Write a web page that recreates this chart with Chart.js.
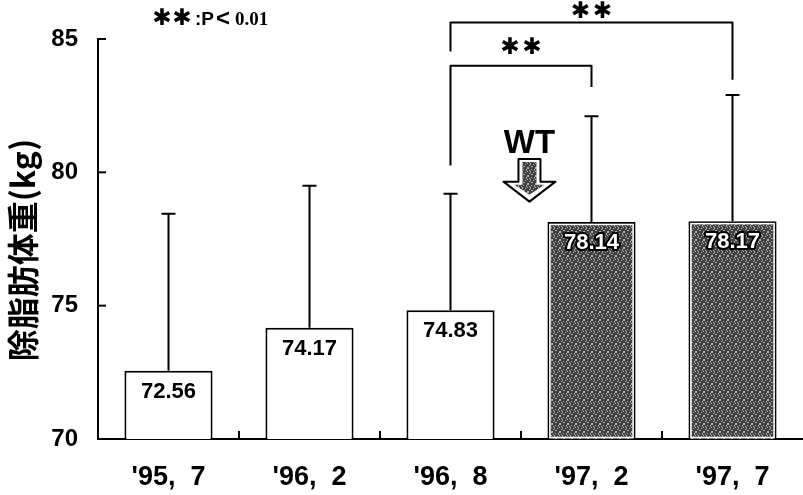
<!DOCTYPE html>
<html>
<head>
<meta charset="utf-8">
<script src="https://cdn.jsdelivr.net/npm/chart.js@4.4.1/dist/chart.umd.min.js"></script>
<style>
    html, body { margin: 0; padding: 0; background: #fff; }
    #wrap { width: 803px; height: 495px; }
</style>
</head>
<body>
<div id="wrap"><canvas id="lbmChart" width="803" height="495"></canvas></div>
<script>
const periods = ["'95,  7", "'96,  2", "'96,  8", "'97,  2", "'97,  7"]
const leanMass = [72.56, 74.17, 74.83, 78.14, 78.17]
const sdTop = [78.45, 79.5, 79.2, 82.1, 82.9]
const yTicks = [70, 75, 80, 85]
const afterWT = [false, false, false, true, true]

// significance brackets (category index / kg)
const bracketFrom = [2, 2]
const bracketTo = [3, 4]
const bracketTop = [84.0, 85.62]
const bracketFromEnd = [80.26, 84.53]
const bracketToEnd = [83.2, 83.47]
const bracketMarkY = [84.67, 86.0]

// WT arrow
const wtAt = 2.56
const wtLabelY = 81.07
const wtArrow = [80.5, 79.65, 78.9] // shaft top, head base, tip

const latin = "'Liberation Sans', Arial, sans-serif"
const cjk = "'Noto Sans CJK JP', 'Noto Sans CJK SC', sans-serif"
const star = "bold 23px 'DejaVu Sans', sans-serif"

const makeStipple = (ctx) => {
    const c = document.createElement('canvas')
    c.width = 8
    c.height = 8
    const g = c.getContext('2d')
    g.fillStyle = '#3f3f3f'
    g.fillRect(0, 0, 8, 8)
    g.fillStyle = '#b0b0b0'
    for (let y = 0; y < 8; y++) {
        for (let x = 0; x < 8; x++) {
            if ((x * 3 + y * 5) % 7 === 0 || (x * 5 + y * 3) % 11 === 0) g.fillRect(x, y, 1, 1)
        }
    }
    return ctx.createPattern(c, 'repeat')
}

const drawStars = (ctx, cx, cy, gap) => {
    ctx.font = star
    ctx.textAlign = 'center'
    ctx.textBaseline = 'middle'
    ctx.fillText('✱', cx - gap / 2, cy)
    ctx.fillText('✱', cx + gap / 2, cy)
}

const annotate = {
    id: 'annotate',
    afterDatasetsDraw(chart) {
        const { ctx, scales: { x, y } } = chart
        const bars = chart.getDatasetMeta(0).data
        ctx.save()
        ctx.strokeStyle = '#000'
        ctx.lineCap = 'butt'

        // inward tick marks
        ctx.lineWidth = 2
        yTicks.forEach((v) => {
            const py = y.getPixelForValue(v)
            ctx.beginPath()
            ctx.moveTo(x.left, py)
            ctx.lineTo(x.left + 8, py)
            ctx.stroke()
        })
        for (let i = 0; i < periods.length - 1; i++) {
            const px = x.getPixelForValue(i + 0.5)
            ctx.beginPath()
            ctx.moveTo(px, y.bottom)
            ctx.lineTo(px, y.bottom - 8)
            ctx.stroke()
        }

        // inner white frame on the stippled bars
        bars.forEach((bar, i) => {
            if (!afterWT[i]) return
            ctx.strokeStyle = '#fff'
            ctx.lineWidth = 1.5
            ctx.strokeRect(bar.x - bar.width / 2 + 2.5, bar.y + 2.5, bar.width - 5, bar.base - bar.y - 4)
        })
        ctx.strokeStyle = '#000'

        // error bars (upper only)
        ctx.lineWidth = 2
        bars.forEach((bar, i) => {
            const top = y.getPixelForValue(sdTop[i])
            ctx.beginPath()
            ctx.moveTo(bar.x, bar.y)
            ctx.lineTo(bar.x, top)
            ctx.moveTo(bar.x - 7, top)
            ctx.lineTo(bar.x + 7, top)
            ctx.stroke()
        })

        // value labels
        ctx.textAlign = 'center'
        ctx.textBaseline = 'middle'
        ctx.font = `bold 22px ${latin}`
        bars.forEach((bar, i) => {
            const ty = bar.y + 21
            const txt = leanMass[i].toFixed(2)
            if (afterWT[i]) {
                ctx.lineWidth = 4
                ctx.lineJoin = 'round'
                ctx.strokeStyle = '#000'
                ctx.strokeText(txt, bar.x, ty)
                ctx.fillStyle = '#fff'
                ctx.fillText(txt, bar.x, ty)
            } else {
                ctx.fillStyle = '#000'
                ctx.fillText(txt, bar.x, ty)
            }
        })

        // significance brackets
        ctx.strokeStyle = '#000'
        ctx.lineWidth = 2
        ctx.fillStyle = '#000'
        bracketFrom.forEach((from, k) => {
            const x1 = x.getPixelForValue(from)
            const x2 = x.getPixelForValue(bracketTo[k])
            const yt = y.getPixelForValue(bracketTop[k])
            ctx.beginPath()
            ctx.moveTo(x1, y.getPixelForValue(bracketFromEnd[k]))
            ctx.lineTo(x1, yt)
            ctx.lineTo(x2, yt)
            ctx.lineTo(x2, y.getPixelForValue(bracketToEnd[k]))
            ctx.stroke()
            drawStars(ctx, (x1 + x2) / 2, y.getPixelForValue(bracketMarkY[k]), 22)
        })

        // WT arrow
        const ax = x.getPixelForValue(wtAt)
        ctx.textAlign = 'center'
        ctx.font = `bold 33px ${latin}`
        ctx.fillText('WT', ax, y.getPixelForValue(wtLabelY))
        const yA = y.getPixelForValue(wtArrow[0])
        const yB = y.getPixelForValue(wtArrow[1])
        const yC = y.getPixelForValue(wtArrow[2])
        ctx.beginPath()
        ctx.moveTo(ax - 11, yA)
        ctx.lineTo(ax + 11, yA)
        ctx.lineTo(ax + 11, yB)
        ctx.lineTo(ax + 26, yB)
        ctx.lineTo(ax, yC)
        ctx.lineTo(ax - 26, yB)
        ctx.lineTo(ax - 11, yB)
        ctx.closePath()
        ctx.fillStyle = '#fff'
        ctx.fill()
        ctx.lineWidth = 2
        ctx.stroke()
        ctx.beginPath()
        ctx.moveTo(ax - 7, yA + 3)
        ctx.lineTo(ax + 7, yA + 3)
        ctx.lineTo(ax + 7, yB + 3)
        ctx.lineTo(ax + 15, yB + 3)
        ctx.lineTo(ax, yC - 7)
        ctx.lineTo(ax - 15, yB + 3)
        ctx.lineTo(ax - 7, yB + 3)
        ctx.closePath()
        ctx.fillStyle = chart.$stipple
        ctx.fill()

        // legend note
        ctx.fillStyle = '#000'
        drawStars(ctx, 172, 19, 20)
        ctx.textAlign = 'left'
        ctx.font = `bold 19px ${latin}`
        ctx.fillText(':P', 195, 20)
        ctx.font = `bold 24px ${latin}`
        ctx.fillText('<', 216, 19)
        ctx.font = `bold 19px 'Liberation Serif', serif`
        ctx.fillText('0.01', 235, 20)

        // y axis title
        ctx.save()
        ctx.translate(23, 250)
        ctx.rotate(-Math.PI / 2)
        ctx.textAlign = 'center'
        ctx.font = `bold 32px ${cjk}`
        ctx.fillText('除脂肪体重(kg)', 0, 0)
        ctx.restore()

        ctx.restore()
    }
}

const canvas = document.getElementById('lbmChart')
const stipple = makeStipple(canvas.getContext('2d'))

const lbmChart = new Chart(canvas, {
    type: 'bar',
    data: {
        labels: periods,
        datasets: [
            {
                data: leanMass,
                base: 70,
                backgroundColor: afterWT.map((w) => (w ? stipple : '#fff')),
                borderColor: '#000',
                borderWidth: 2,
                barPercentage: 0.625,
                categoryPercentage: 1
            }
        ]
    },
    options: {
        responsive: false,
        animation: false,
        events: [],
        layout: { padding: { top: 39, right: 0, bottom: 0, left: 0 } },
        plugins: {
            legend: { display: false },
            tooltip: { enabled: false }
        },
        scales: {
            x: {
                grid: { display: false, drawTicks: false },
                border: { color: '#000', width: 2 },
                ticks: {
                    color: '#000',
                    padding: 22,
                    maxRotation: 0,
                    font: { family: latin, size: 27, weight: 'bold' }
                },
                afterFit: (s) => { s.height = 56 }
            },
            y: {
                min: 70,
                max: 85,
                afterBuildTicks: (s) => { s.ticks = yTicks.map((v) => ({ value: v })) },
                grid: { display: false, drawTicks: false },
                border: { color: '#000', width: 2 },
                ticks: {
                    color: '#000',
                    padding: 20,
                    font: { family: latin, size: 24, weight: 'bold' }
                },
                afterFit: (s) => { s.width = 98 }
            }
        }
    },
    plugins: [annotate]
})
lbmChart.$stipple = stipple
lbmChart.draw()
</script>
</body>
</html>
